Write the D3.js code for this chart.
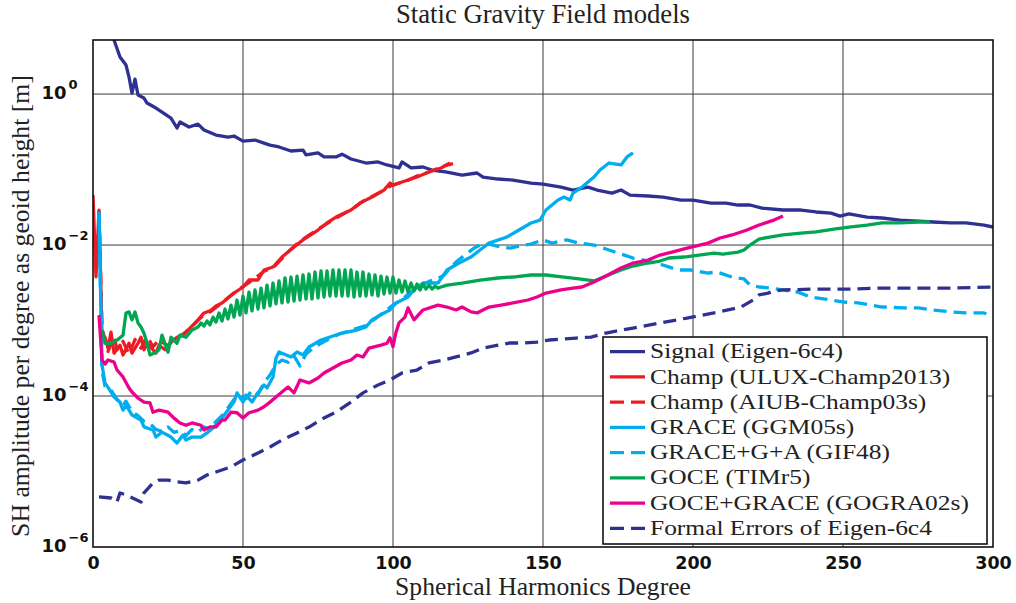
<!DOCTYPE html>
<html><head><meta charset="utf-8">
<script src="https://cdn.jsdelivr.net/npm/d3@7"></script>
<style>body{margin:0;background:#fff}</style>
</head><body>
<svg id="chart" width="1016" height="603"></svg>
<script>
// ---------- DATA ----------
const titleText = "Static Gravity Field models";
const xLabelText = "Spherical Harmonics Degree";
const yLabelText = "SH amplitude per degree as geoid height [m]";
const xTickValues = [0, 50, 100, 150, 200, 250, 300];
const yTickExponents = [0, -2, -4, -6];
const seriesNames = ["Signal (Eigen-6c4)", "Champ (ULUX-Champ2013)", "Champ (AIUB-Champ03s)",
  "GRACE (GGM05s)", "GRACE+G+A (GIF48)", "GOCE (TIMr5)", "GOCE+GRACE (GOGRA02s)", "Formal Errors of Eigen-6c4"];

// [degree, amplitude in m]
const signalEigen6c4 = [[2,30],[5,10.8],[7,5.2],[9,3.1],[11,2.42],[12,1.68],[13,1.03],[14,1.58],[15,0.97],[17,0.885],
 [18,0.76],[21,0.653],[22,0.614],[26,0.481],[28,0.355],[29,0.426],[32,0.366],[35,0.40],[37,0.334],[41,0.286],
 [45,0.269],[47,0.278],[50,0.238],[54,0.246],[57,0.224],[59,0.211],[62,0.199],[66,0.176],[70,0.181],[71,0.156],
 [75,0.166],[77,0.147],[81,0.147],[83,0.160],[86,0.138],[91,0.122],[95,0.126],[98,0.115],[102,0.105],[103,0.126],
 [106,0.105],[110,0.108],[113,0.0985],[118,0.0927],[123,0.0845],[128,0.090],[130,0.0796],[135,0.0749],[140,0.0726],[146,0.0662],
 [150,0.0643],[156,0.0586],[160,0.0535],[165,0.0586],[168,0.0535],[173,0.0488],[176,0.0535],[179,0.0459],[185,0.0446],[190,0.0432],
 [196,0.0394],[200,0.0394],[206,0.036],[211,0.036],[215,0.0339],[219,0.0339],[223,0.0309],[230,0.0291],[236,0.0291],[241,0.0274],
 [246,0.0265],[249,0.0242],[252,0.0258],[258,0.0235],[263,0.0228],[269,0.0214],[275,0.0208],[280,0.0202],[286,0.0196],[291,0.0196],
 [297,0.0184],[300,0.0173]];

const champULUX = [[0,0.046],[1,0.0038],[2,0.029],[3,6.4e-4],[4,6.0e-4],[5,4.3e-4],[6,7.0e-4],[7,3.7e-4],[9,4.7e-4],[10,3.5e-4],
 [12,5.0e-4],[13,3.7e-4],[15,5.0e-4],[16,6.0e-4],[17,4.1e-4],[18,5.0e-4],[21,3.7e-4],[22,4.7e-4],[24,4.1e-4],[26,5.2e-4],
 [28,6.0e-4],[30,6.4e-4],[32,7.7e-4],[35,1.02e-3],[37,1.26e-3],[39,1.34e-3],[41,1.56e-3],[43,1.71e-3],[47,2.31e-3],[50,2.78e-3],
 [52,3.44e-3],[55,3.44e-3],[57,4.67e-3],[60,5.12e-3],[63,6.94e-3],[67,9.42e-3],[70,0.0117],[75,0.0158],[78,0.0196],[81,0.0235],
 [86,0.0291],[89,0.036],[93,0.0432],[97,0.0535],[99,0.0662],[100,0.0624],[103,0.0683],[108,0.0796],[112,0.0927],[116,0.105],[119,0.122]];

const champAIUB = [[2,0.028],[3,8.0e-4],[4,5.5e-4],[5,3.9e-4],[7,6.2e-4],[8,4.1e-4],[10,5.3e-4],[12,3.6e-4],[14,5.6e-4],[16,4.3e-4],
 [18,6.2e-4],[20,4.5e-4],[22,5.5e-4],[25,4.6e-4],[27,5.6e-4],[30,6.6e-4],[33,8.3e-4],[36,1.1e-3],[39,1.3e-3],[42,1.6e-3],
 [45,2.0e-3],[48,2.5e-3],[51,3.0e-3],[54,3.6e-3],[57,4.5e-3],[60,5.0e-3],[63,6.6e-3],[66,8.8e-3],[69,0.0112],[72,0.0135],
 [75,0.0162],[78,0.0192],[81,0.0228],[84,0.0265],[87,0.031],[90,0.038],[93,0.044],[96,0.051],[99,0.060],[102,0.066],
 [105,0.072],[108,0.082],[111,0.090],[114,0.100],[117,0.112],[120,0.120]];

const graceGGM05s = [[2,0.0274],[3,2.6e-4],[4,1.49e-4],[6,1.13e-4],[7,9.7e-5],[9,8.3e-5],[10,6.5e-5],[11,7.6e-5],[13,5.6e-5],[16,4.8e-5],
 [17,3.9e-5],[20,3.55e-5],[21,2.86e-5],[23,3.33e-5],[26,2.86e-5],[28,2.38e-5],[30,3.04e-5],[31,2.61e-5],[33,2.86e-5],[36,2.86e-5],
 [38,3.24e-5],[40,3.77e-5],[42,4.53e-5],[45,6.53e-5],[47,8.33e-5],[48,1.10e-4],[50,8.33e-5],[51,1.03e-4],[53,8.33e-5],[55,1.10e-4],
 [57,1.40e-4],[58,1.28e-4],[60,1.79e-4],[61,3.18e-4],[62,3.83e-4],[66,3.29e-4],[68,3.83e-4],[70,3.49e-4],[72,4.46e-4],[76,5.52e-4],
 [79,6.04e-4],[83,6.83e-4],[88,7.48e-4],[91,8.2e-4],[93,1.02e-3],[97,1.26e-3],[99,1.38e-3],[101,1.71e-3],[105,2.05e-3],[107,2.54e-3],
 [110,3.14e-3],[115,3.14e-3],[118,4.67e-3],[122,5.78e-3],[126,6.94e-3],[129,8.59e-3],[132,0.0106],[138,0.0128],[142,0.0158],[146,0.0196],
 [149,0.0214],[151,0.0291],[155,0.0394],[157,0.0432],[159,0.0394],[160,0.0488],[163,0.0586],[167,0.0796],[169,0.0985],[172,0.122],
 [176,0.115],[178,0.147],[180,0.166]];

const graceGIF48 = [[2,0.026],[3,2.2e-4],[4,1.35e-4],[6,1.2e-4],[8,9.0e-5],[10,7.5e-5],[11,8.5e-5],[13,6.2e-5],[15,5.5e-5],[17,4.6e-5],
 [19,4.3e-5],[21,3.6e-5],[23,3.4e-5],[25,3.9e-5],[27,3.3e-5],[29,3.5e-5],[31,3.0e-5],[33,3.6e-5],[35,3.3e-5],[37,3.9e-5],
 [39,3.6e-5],[41,4.6e-5],[43,5.5e-5],[45,7.0e-5],[47,9.0e-5],[49,1.0e-4],[51,9.2e-5],[53,1.2e-4],[55,1.05e-4],[57,1.5e-4],
 [59,1.9e-4],[61,2.6e-4],[63,3.0e-4],[65,2.8e-4],[67,3.4e-4],[69,2.5e-4],[71,3.6e-4],[73,4.2e-4],[76,5.0e-4],[79,5.8e-4],
 [82,6.6e-4],[85,7.2e-4],[88,7.9e-4],[91,8.6e-4],[94,1.05e-3],[97,1.3e-3],[100,1.6e-3],[103,1.9e-3],[106,2.4e-3],[109,2.9e-3],
 [112,3.3e-3],[115,3.6e-3],[117,4.0e-3],[121,5.96e-3],[127,9.1e-3],[129,0.010],[132,0.0103],[136,9.4e-3],[139,9.1e-3],[142,9.7e-3],
 [146,0.0103],[150,0.0117],[153,0.0106],[158,0.0117],[162,0.0106],[167,0.010],[171,8.85e-3],[176,7.6e-3],[180,6.73e-3],[185,6.14e-3],
 [190,5.43e-3],[195,4.67e-3],[199,4.67e-3],[205,4.26e-3],[208,4.39e-3],[213,3.77e-3],[217,3.55e-3],[219,2.95e-3],[222,2.78e-3],[226,2.69e-3],
 [230,2.54e-3],[235,2.38e-3],[239,2.05e-3],[246,1.87e-3],[250,1.76e-3],[255,1.71e-3],[263,1.51e-3],[270,1.47e-3],[275,1.47e-3],[280,1.38e-3],
 [286,1.30e-3],[291,1.26e-3],[297,1.26e-3],[300,1.15e-3]];

const goceTIMr5 = [[3,7.5e-4],[4,5.0e-4],[6,5.0e-4],[8,5.5e-4],[10,6.4e-4],[11,1.26e-3],[12,1.30e-3],[13,1.02e-3],[14,1.30e-3],[15,9.3e-4],
 [16,8.2e-4],[17,6.8e-4],[18,5.0e-4],[19,3.5e-4],[21,3.8e-4],[22,4.1e-4],[23,6.4e-4],[25,3.8e-4],[26,6.0e-4],[28,5.0e-4],
 [29,6.4e-4],[31,6.0e-4],[33,7.5e-4],[35,8.2e-4],
 [36,9.27e-4],[37,8.46e-4],[38,9.85e-4],[39,8.72e-4],[40,1.11e-3],[41,9.55e-4],[42,1.26e-3],[43,9.85e-4],[44,1.42e-3],[45,1.05e-3],
 [46,1.60e-3],[47,1.11e-3],[48,1.87e-3],[49,1.18e-3],[50,2.11e-3],[51,1.26e-3],[52,2.38e-3],[53,1.34e-3],[54,2.54e-3],[55,1.42e-3],
 [56,2.69e-3],[57,1.47e-3],[58,2.95e-3],[59,1.56e-3],[60,3.14e-3],[61,1.66e-3],[62,3.34e-3],[63,1.71e-3],[64,3.66e-3],[65,1.76e-3],
 [66,3.77e-3],[67,1.81e-3],[68,3.88e-3],[69,1.87e-3],[70,4.01e-3],[71,1.93e-3],[72,4.13e-3],[73,1.93e-3],[74,4.39e-3],[75,1.99e-3],
 [76,4.53e-3],[77,2.05e-3],[78,4.53e-3],[79,2.11e-3],[80,4.67e-3],[81,2.11e-3],[82,4.67e-3],[83,2.11e-3],[84,4.67e-3],[85,2.11e-3],
 [86,4.67e-3],[87,2.05e-3],[88,4.39e-3],[89,2.11e-3],[90,4.39e-3],[91,2.11e-3],[92,4.13e-3],[93,2.18e-3],[94,4.01e-3],[95,2.11e-3],
 [96,3.88e-3],[97,2.24e-3],[98,3.77e-3],[99,2.31e-3],[100,3.77e-3],[101,2.31e-3],[102,3.44e-3],[103,2.38e-3],[104,3.34e-3],[105,2.38e-3],
 [106,3.14e-3],[107,2.46e-3],[108,3.04e-3],[109,2.54e-3],[110,3.04e-3],[111,2.61e-3],[112,2.95e-3],[113,2.61e-3],[114,2.86e-3],[115,2.69e-3],
 [116,2.78e-3],[118,2.95e-3],[123,3.14e-3],[129,3.44e-3],[135,3.66e-3],[140,3.77e-3],[146,4.01e-3],[151,4.01e-3],[157,3.77e-3],[162,3.55e-3],
 [167,3.34e-3],[171,3.88e-3],[176,4.67e-3],[180,5.27e-3],[185,5.78e-3],[189,6.14e-3],[192,6.73e-3],[197,6.94e-3],[202,7.37e-3],[207,7.83e-3],
 [210,7.6e-3],[215,8.07e-3],[217,8.59e-3],[219,0.010],[222,0.0120],[226,0.0128],[230,0.0136],[236,0.0144],[241,0.0149],[247,0.0163],
 [252,0.0173],[258,0.0184],[263,0.0196],[269,0.0196],[275,0.0202],[279,0.0202]];

const gograGOGRA02s = [[2,1.18e-3],[3,3.0e-4],[4,2.65e-4],[5,3.0e-4],[7,2.82e-4],[8,2.21e-4],[10,1.79e-4],[12,1.28e-4],[13,1.13e-4],[15,9.4e-5],
 [17,8.3e-5],[19,8.1e-5],[20,6.1e-5],[22,6.5e-5],[25,6.1e-5],[27,5.1e-5],[29,4.4e-5],[31,4.1e-5],[33,4.4e-5],[36,4.1e-5],
 [37,3.55e-5],[39,3.9e-5],[41,3.9e-5],[43,4.8e-5],[44,4.8e-5],[46,6.1e-5],[48,6.0e-5],[50,5.1e-5],[52,6.0e-5],[55,6.5e-5],
 [57,7.2e-5],[59,8.3e-5],[61,9.7e-5],[63,1.13e-4],[65,1.32e-4],[67,1.10e-4],[69,1.63e-4],[72,1.49e-4],[75,1.73e-4],[77,2.02e-4],
 [80,2.35e-4],[83,2.74e-4],[86,3.0e-4],[88,3.49e-4],[90,3.29e-4],[92,4.32e-4],[96,4.73e-4],[98,5.0e-4],[99,5.9e-4],[100,4.5e-4],
 [101,7.0e-4],[102,9.3e-4],[104,1.11e-3],[105,1.47e-3],[107,1.02e-3],[110,1.38e-3],[115,1.60e-3],[118,1.51e-3],[121,1.38e-3],[123,1.51e-3],
 [126,1.30e-3],[128,1.26e-3],[132,1.51e-3],[136,1.60e-3],[140,1.71e-3],[145,1.87e-3],[148,2.05e-3],[151,2.31e-3],[156,2.54e-3],[160,2.69e-3],
 [163,2.78e-3],[167,3.24e-3],[171,3.88e-3],[176,4.96e-3],[180,5.78e-3],[185,6.33e-3],[189,7.37e-3],[193,8.07e-3],[198,9.1e-3],[205,0.0106],
 [209,0.0124],[213,0.0136],[218,0.0158],[222,0.0184],[227,0.0214],[230,0.0242]];

const formalErrorsEigen6c4 = [[2,4.6e-6],[6,4.46e-6],[8,3.95e-6],[9,5.2e-6],[11,4.9e-6],[16,3.95e-6],[17,5.2e-6],[20,7.05e-6],[22,7.7e-6],[25,7.7e-6],
 [28,7.3e-6],[31,7.05e-6],[35,7.7e-6],[38,9.0e-6],[41,9.85e-6],[46,1.15e-5],[50,1.42e-5],[55,1.76e-5],[59,2.11e-5],[63,2.61e-5],
 [68,3.24e-5],[72,3.88e-5],[77,5.12e-5],[81,6.14e-5],[86,8.33e-5],[90,1.10e-4],[95,1.40e-4],[99,1.63e-4],[103,2.02e-4],[108,2.21e-4],
 [112,2.74e-4],[117,3.0e-4],[121,3.29e-4],[126,3.72e-4],[130,4.32e-4],[135,4.73e-4],[139,5.04e-4],[143,5.04e-4],[148,5.19e-4],[152,5.52e-4],
 [157,5.69e-4],[161,5.86e-4],[166,6.04e-4],[171,6.83e-4],[180,7.96e-4],[189,9.27e-4],[198,1.08e-3],[207,1.26e-3],[216,1.51e-3],[220,1.87e-3],
 [222,2.18e-3],[225,2.31e-3],[227,2.46e-3],[230,2.54e-3],[241,2.61e-3],[252,2.61e-3],[263,2.69e-3],[275,2.69e-3],[286,2.69e-3],[300,2.78e-3]];

// ---------- STYLE ----------
const seriesData = [signalEigen6c4, champULUX, champAIUB, graceGGM05s, graceGIF48, goceTIMr5, gograGOGRA02s, formalErrorsEigen6c4];
const seriesStyle = [
  {color:"#2e3192", dash:null}, {color:"#ed1c24", dash:null}, {color:"#ed1c24", dash:"13,7"},
  {color:"#00aeef", dash:null}, {color:"#00aeef", dash:"13,7"}, {color:"#00a651", dash:null},
  {color:"#ec008c", dash:null}, {color:"#2e3192", dash:"13,7"}];
const SERIF = "'Liberation Serif', 'Times New Roman', serif";
const SANSB = "'DejaVu Sans', sans-serif";

const svg = d3.select("#chart");
const L = 93, R = 993, T = 40, B = 547;
const x = d3.scaleLinear().domain([0, 300]).range([L, R]);
const y = d3.scaleLog().domain([1e-6, 5.2]).range([B, T]);

svg.append("rect").attr("width",1016).attr("height",603).attr("fill","#fff");

// grid
const grid = svg.append("g").attr("stroke","#3a3a3a").attr("stroke-width",1);
xTickValues.filter(v => v > 0 && v < 300).forEach(v => {
  grid.append("line").attr("x1", x(v)).attr("x2", x(v)).attr("y1", T).attr("y2", B);
});
yTickExponents.filter(e => e > -6).forEach(e => {
  grid.append("line").attr("x1", L).attr("x2", R).attr("y1", y(Math.pow(10,e))).attr("y2", y(Math.pow(10,e)));
});

// clip
svg.append("defs").append("clipPath").attr("id","clip")
  .append("rect").attr("x",L).attr("y",T).attr("width",R-L).attr("height",B-T);

const line = d3.line().x(d => x(d[0])).y(d => y(d[1]));
const plot = svg.append("g").attr("clip-path","url(#clip)");
seriesData.forEach((data, i) => {
  plot.append("path").datum(data).attr("d", line)
    .attr("fill","none").attr("stroke", seriesStyle[i].color)
    .attr("stroke-width", 3.3).attr("stroke-linejoin","round")
    .attr("stroke-dasharray", seriesStyle[i].dash);
});

// axes box
svg.append("rect").attr("x",L).attr("y",T).attr("width",R-L).attr("height",B-T)
  .attr("fill","none").attr("stroke","#111").attr("stroke-width",1.6);

// x tick labels
const xAxis = d3.axisBottom(x).tickValues(xTickValues).tickSize(0).tickPadding(0);
const gx = svg.append("g").attr("transform", `translate(0,${B})`).call(xAxis);
gx.select(".domain").remove();
gx.selectAll("text").attr("y", 22).attr("dy", null)
  .attr("font-family", SANSB).attr("font-weight","bold").attr("font-size", 17.5).attr("fill","#111");

// y tick labels (10^n)
yTickExponents.forEach(e => {
  const t = svg.append("text").attr("x", 41.5).attr("y", y(Math.pow(10,e)) + 5)
    .attr("font-family", SANSB).attr("font-weight","bold").attr("font-size",18).attr("fill","#111");
  t.append("tspan").text("10");
  t.append("tspan").attr("dy", -10).attr("dx", 2).attr("font-size", 13).text(e === 0 ? "0" : "\u2212" + Math.abs(e));
});

function fit(sel, width) {
  const w = sel.node().getComputedTextLength();
  const fs = parseFloat(sel.attr("font-size"));
  sel.attr("font-size", fs * width / w);
}

// title
const tt = svg.append("text").attr("x", 543).attr("y", 23).attr("text-anchor","middle")
  .attr("font-family", SERIF).attr("font-size", 20).attr("fill","#222").text(titleText);
fit(tt, 294);
// x label
const xl = svg.append("text").attr("x", 543).attr("y", 595).attr("text-anchor","middle")
  .attr("font-family", SERIF).attr("font-size", 20).attr("fill","#222").text(xLabelText);
fit(xl, 296);
// y label
const yl = svg.append("text").attr("transform","translate(29,306) rotate(-90)").attr("text-anchor","middle")
  .attr("font-family", SERIF).attr("font-size", 20).attr("fill","#222").text(yLabelText);
fit(yl, 462);

// legend
const lg = svg.append("g");
lg.append("rect").attr("x",603).attr("y",337).attr("width",384).attr("height",207)
  .attr("fill","#fff").attr("stroke","#111").attr("stroke-width",1.6);
const legendText = lg.append("g");
const texts = [];
seriesNames.forEach((name, i) => {
  const cy = 351.7 + i * 25.23;
  lg.append("line").attr("x1",610).attr("x2",645).attr("y1",cy).attr("y2",cy)
    .attr("stroke", seriesStyle[i].color).attr("stroke-width",3.3)
    .attr("stroke-dasharray", seriesStyle[i].dash ? "14,7" : null);
  texts.push(legendText.append("text").attr("x",650).attr("y",cy+6.6)
    .attr("font-family", SERIF).attr("font-size",21.5).attr("fill","#222").text(name));
});
// stretch horizontally so the Computer-Modern-like widths of the reference are matched
const w0 = texts[0].node().getComputedTextLength();
const sx = 193 / w0;
legendText.attr("transform", `translate(650,0) scale(${sx},1) translate(-650,0)`);
</script>
</body></html>
